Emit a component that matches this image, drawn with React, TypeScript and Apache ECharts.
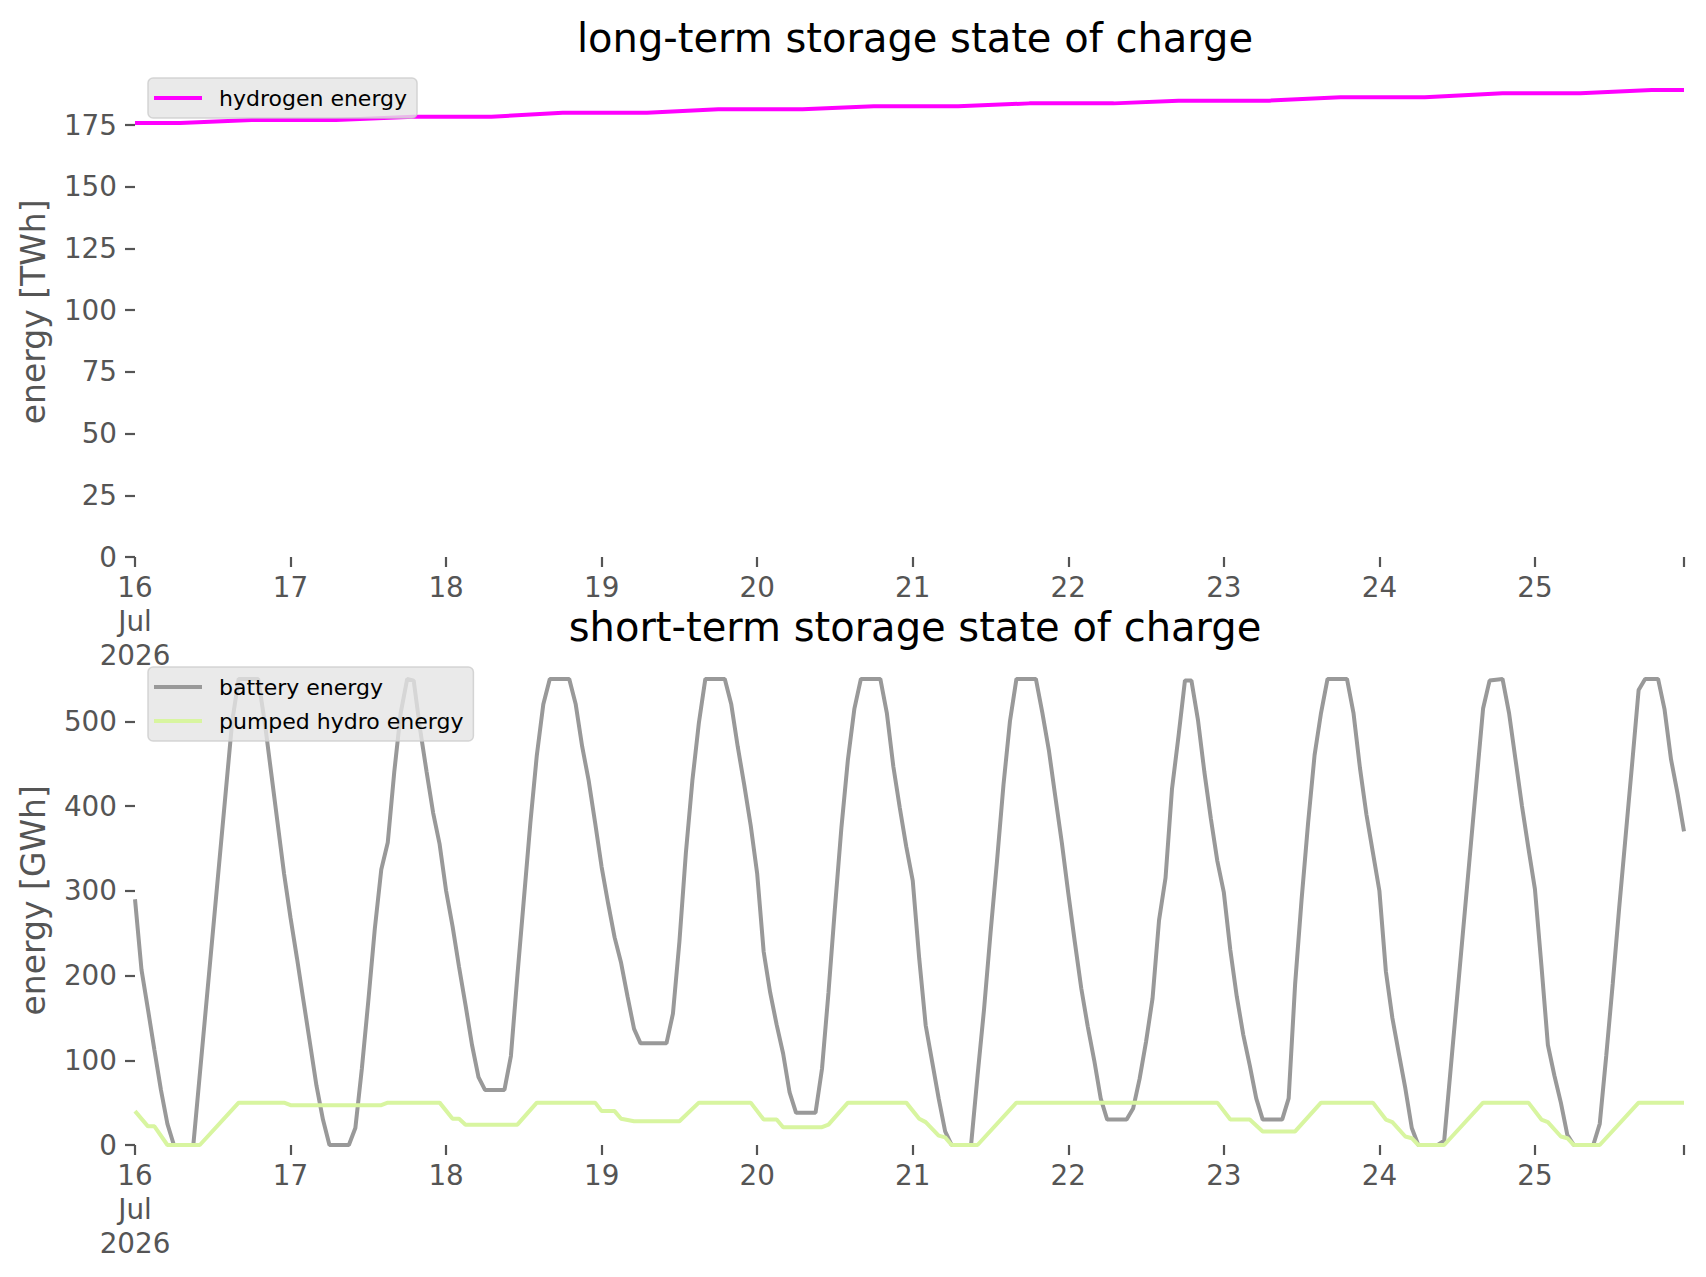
import { useEffect, useRef } from 'react';
import * as echarts from 'echarts';

// hours since 16 Jul 2026 00:00, hourly resolution up to hour 239
const LAST_HOUR = 239;
const dayHours = [0, 24, 48, 72, 96, 120, 144, 168, 192, 216];
const dayLabels = ['16\nJul\n2026', '17', '18', '19', '20', '21', '22', '23', '24', '25'];

const twhTicks = [0, 25, 50, 75, 100, 125, 150, 175];
const gwhTicks = [0, 100, 200, 300, 400, 500];

// [hour, TWh]
const hydrogen: [number, number][] = [
  [0, 175.8], [7, 175.8], [18, 177.1], [31, 177.1], [43, 178.4], [55, 178.4],
  [66, 180.0], [79, 180.0], [90, 181.4], [103, 181.4], [114, 182.6], [127, 182.6],
  [138, 183.8], [151, 183.8], [161, 184.9], [175, 184.9], [186, 186.3], [199, 186.3],
  [211, 187.9], [223, 187.9], [234, 189.2], [239, 189.2],
];

// [hour, GWh]
const battery: [number, number][] = [
  [0, 290], [1, 207], [2, 160], [3, 112], [4, 65], [5, 25], [6, 0], [9, 0], [15, 500], [16, 550],
  [19, 550], [20, 500], [21, 440], [22, 380], [23, 320], [24, 268], [25, 220], [26, 170], [27, 120],
  [28, 70], [29, 30], [30, 0], [33, 0], [34, 20], [35, 90], [36, 170], [37, 255], [38, 325], [39, 357],
  [40, 440], [41, 510], [42, 550], [43, 548], [44, 490], [45, 440], [46, 392], [47, 355], [48, 300],
  [49, 258], [50, 210], [51, 165], [52, 118], [53, 80], [54, 65], [57, 65], [58, 105], [59, 200],
  [60, 290], [61, 380], [62, 460], [63, 520], [64, 550], [67, 550], [68, 520], [69, 470], [70, 430],
  [71, 380], [72, 328], [73, 285], [74, 245], [75, 215], [76, 175], [77, 137], [78, 120], [82, 120],
  [83, 155], [84, 240], [85, 345], [86, 430], [87, 498], [88, 550], [91, 550], [92, 520], [93, 470],
  [94, 425], [95, 377], [96, 320], [97, 228], [98, 180], [99, 142], [100, 108], [101, 62], [102, 38],
  [105, 38], [106, 90], [107, 180], [108, 280], [109, 375], [110, 455], [111, 515], [112, 550],
  [115, 550], [116, 510], [117, 447], [118, 398], [119, 352], [120, 312], [121, 220], [122, 141],
  [123, 98], [124, 55], [125, 16], [126, 0], [129, 0], [130, 82], [131, 160], [132, 250], [133, 335],
  [134, 425], [135, 500], [136, 550], [139, 550], [140, 510], [141, 466], [142, 411], [143, 357],
  [144, 297], [145, 240], [146, 185], [147, 140], [148, 100], [149, 55], [150, 30], [153, 30],
  [154, 43], [155, 78], [156, 122], [157, 173], [158, 265], [159, 315], [160, 420], [161, 482],
  [162, 548], [163, 548], [164, 502], [165, 440], [166, 385], [167, 335], [168, 298], [169, 230],
  [170, 175], [171, 130], [172, 94], [173, 55], [174, 30], [177, 30], [178, 55], [179, 190],
  [180, 290], [181, 380], [182, 460], [183, 510], [184, 550], [187, 550], [188, 510], [189, 445],
  [190, 390], [191, 345], [192, 300], [193, 205], [194, 150], [195, 108], [196, 67], [197, 20],
  [198, 0], [201, 0], [202, 5], [203, 90], [204, 175], [205, 260], [206, 345], [207, 430], [208, 515],
  [209, 548], [211, 550], [212, 510], [213, 455], [214, 400], [215, 350], [216, 302], [217, 212],
  [218, 118], [219, 82], [220, 50], [221, 12], [222, 0], [225, 0], [226, 25], [227, 105], [228, 190],
  [229, 280], [230, 365], [231, 450], [232, 537], [233, 550], [235, 550], [236, 514], [237, 455],
  [238, 415], [239, 370],
];

// [hour, GWh]
const pumpedHydro: [number, number][] = [
  [0, 40], [2, 22], [3, 22], [5, 0], [10, 0], [16, 50], [23, 50], [24, 47], [38, 47], [39, 50],
  [47, 50], [49, 31], [50, 31], [51, 24], [59, 24], [62, 50], [71, 50], [72, 40], [74, 40], [75, 31],
  [77, 28], [84, 28], [87, 50], [95, 50], [97, 30], [99, 30], [100, 21], [106, 21], [107, 24],
  [110, 50], [119, 50], [121, 31], [122, 27], [124, 11], [125, 9], [126, 0], [130, 0], [136, 50],
  [167, 50], [169, 30], [172, 30], [174, 16], [179, 16], [183, 50], [191, 50], [193, 30], [194, 27],
  [196, 10], [197, 8], [198, 0], [202, 0], [208, 50], [215, 50], [217, 30], [218, 27], [220, 10],
  [221, 8], [222, 0], [226, 0], [232, 50], [239, 50],
];

const FONT = 'DejaVu Sans';
const TICK_COLOR = '#555555';

function xAxisFor(gridIndex: number) {
  return {
    type: 'value',
    gridIndex,
    min: 0,
    max: LAST_HOUR,
    axisLine: { show: false },
    splitLine: { show: false },
    axisTick: {
      show: true,
      length: 10,
      lineStyle: { color: TICK_COLOR, width: 2.2 },
      customValues: [...dayHours, LAST_HOUR],
    },
    axisLabel: {
      customValues: dayHours,
      formatter: (v: number) => dayLabels[dayHours.indexOf(v)] ?? '',
      color: TICK_COLOR,
      fontSize: 27.8,
      lineHeight: 34,
      fontFamily: FONT,
      margin: 13,
    },
  };
}

function yAxisFor(gridIndex: number, max: number, ticks: number[], name: string) {
  return {
    type: 'value',
    gridIndex,
    min: 0,
    max,
    name,
    nameLocation: 'middle',
    nameGap: 85,
    nameTextStyle: { color: TICK_COLOR, fontSize: 33, fontFamily: FONT },
    axisLine: { show: false },
    splitLine: { show: false },
    axisTick: {
      show: true,
      length: 10,
      lineStyle: { color: TICK_COLOR, width: 2.2 },
      customValues: ticks,
    },
    axisLabel: {
      customValues: ticks,
      color: TICK_COLOR,
      fontSize: 27.8,
      fontFamily: FONT,
      margin: 18,
    },
  };
}

const legendBase = {
  orient: 'vertical',
  left: 148,
  icon: 'rect',
  itemWidth: 48,
  itemHeight: 4.2,
  itemGap: 8,
  padding: [7, 10, 7, 6],
  backgroundColor: 'rgba(229,229,229,0.8)',
  borderColor: 'rgba(204,204,204,0.8)',
  borderWidth: 1.5,
  borderRadius: 5,
  textStyle: { color: '#000', fontSize: 22, lineHeight: 26, fontFamily: FONT, padding: [0, 0, 0, 12] },
};

export default function App() {
  const chartRef = useRef<HTMLDivElement>(null);

  useEffect(() => {
    if (!chartRef.current) return;
    const chart = echarts.init(chartRef.current, null, { renderer: 'svg' });

    chart.setOption({
      animation: false,
      backgroundColor: '#ffffff',
      title: [
        {
          text: 'long-term storage state of charge',
          left: 910,
          top: 13,
          textAlign: 'center',
          textStyle: { color: '#000', fontSize: 40, fontWeight: 'normal', fontFamily: FONT },
        },
        {
          text: 'short-term storage state of charge',
          left: 910,
          top: 602,
          textAlign: 'center',
          textStyle: { color: '#000', fontSize: 40, fontWeight: 'normal', fontFamily: FONT },
        },
      ],
      legend: [
        { ...legendBase, top: 78, data: ['hydrogen energy'] },
        { ...legendBase, top: 667, data: ['battery energy', 'pumped hydro energy'] },
      ],
      grid: [
        { left: 135, top: 66.6, width: 1549, height: 490.4 },
        { left: 135, top: 655.6, width: 1549, height: 489.4 },
      ],
      xAxis: [xAxisFor(0), xAxisFor(1)],
      yAxis: [
        yAxisFor(0, 198.7, twhTicks, 'energy [TWh]'),
        yAxisFor(1, 577.5, gwhTicks, 'energy [GWh]'),
      ],
      series: [
        {
          name: 'hydrogen energy',
          type: 'line',
          xAxisIndex: 0,
          yAxisIndex: 0,
          data: hydrogen,
          showSymbol: false,
          lineStyle: { color: '#ff00ff', width: 4 },
          itemStyle: { color: '#ff00ff' },
        },
        {
          name: 'battery energy',
          type: 'line',
          xAxisIndex: 1,
          yAxisIndex: 1,
          data: battery,
          showSymbol: false,
          lineStyle: { color: '#999999', width: 4 },
          itemStyle: { color: '#999999' },
        },
        {
          name: 'pumped hydro energy',
          type: 'line',
          xAxisIndex: 1,
          yAxisIndex: 1,
          data: pumpedHydro,
          showSymbol: false,
          lineStyle: { color: '#d8f5a0', width: 4 },
          itemStyle: { color: '#d8f5a0' },
        },
      ],
    });

    return () => chart.dispose();
  }, []);

  return (
    <div
      ref={chartRef}
      style={{ position: 'absolute', left: 0, top: 0, width: 1706, height: 1277, background: '#fff' }}
    />
  );
}
